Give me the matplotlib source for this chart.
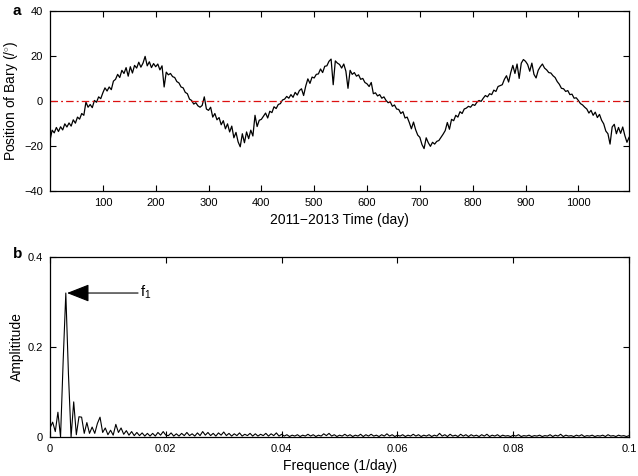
import numpy as np
import matplotlib
matplotlib.use("Agg")
import matplotlib.pyplot as plt

plt.rcParams['font.family'] = ['Liberation Sans', 'DejaVu Sans']
plt.rcParams['mathtext.fontset'] = 'custom'
plt.rcParams['mathtext.rm'] = 'Liberation Sans'
plt.rcParams['mathtext.it'] = 'Liberation Sans'

# ---- panel a: position series (one value every 4 days, 0..1096) ----
day_step = 4
position = [
    -17.5, -13.0, -14.2, -11.8, -13.6, -11.5, -12.9, -10.2, -11.6, -9.8, -11.2, -8.4, -9.9, -7.2, -8.1, -5.6, -6.4, -0.5, -2.8, -1.6, -3.0, 0.2, -0.6, 1.8, 1.0,
    3.6, 5.8, 4.4, 6.2, 5.0, 8.8, 9.6, 11.8, 10.4, 13.6, 12.2, 14.8, 11.0, 15.2, 12.4, 15.8, 14.6, 17.2, 15.0, 16.8, 19.8, 15.6, 17.4, 14.8, 16.6,
    15.2, 16.4, 13.8, 15.6, 6.2, 12.8, 11.6, 12.2, 10.8, 10.4, 8.6, 8.0, 6.2, 5.8, 3.8, 3.2, 0.8, 0.2, -1.4, -0.8, -2.2, -2.8, -2.0, 1.8, -3.6,
    -4.2, -2.8, -7.2, -5.6, -8.4, -7.4, -10.6, -8.8, -12.4, -10.2, -13.8, -11.2, -16.4, -14.0, -18.2, -20.4, -14.6, -18.6, -13.8, -16.8, -13.0, -15.6, -6.4, -11.4, -8.6,
    -8.2, -6.8, -5.4, -7.6, -4.6, -5.2, -2.6, -3.4, -1.6, -1.2, 0.4, 0.8, 2.0, 1.2, 2.8, 1.6, 3.8, 2.6, 4.6, 5.4, 2.4, 6.6, 9.8, 7.8, 10.6,
    10.2, 11.8, 12.0, 14.2, 12.6, 15.4, 15.6, 17.6, 18.6, 7.2, 17.8, 16.8, 16.2, 14.6, 16.4, 13.2, 5.6, 13.6, 11.8, 12.6, 11.0, 11.6, 9.6, 10.0, 8.2,
    7.6, 6.4, 8.2, 3.2, 3.6, 2.2, 2.8, 1.2, 1.8, 0.2, -0.8, -0.4, -2.4, -1.8, -3.6, -3.8, -5.6, -4.8, -7.6, -7.2, -9.6, -12.4, -9.4, -12.8, -15.2,
    -16.2, -19.4, -21.2, -16.4, -18.6, -20.2, -18.4, -19.2, -18.0, -17.6, -16.2, -14.8, -13.2, -9.6, -12.6, -8.2, -8.8, -6.4, -7.2, -4.8, -5.6, -3.6, -3.2, -2.4, -2.8,
    -1.6, -2.0, -0.6, 0.2, -0.2, 1.2, 2.4, 1.8, 3.2, 2.8, 4.8, 4.2, 6.4, 6.8, 7.2, 9.6, 11.2, 8.4, 12.6, 15.8, 12.2, 16.4, 10.0, 16.8, 18.4,
    17.6, 16.2, 13.2, 16.8, 11.8, 10.2, 13.6, 15.2, 16.4, 14.6, 13.8, 12.6, 12.4, 11.2, 10.4, 8.6, 7.4, 5.6, 5.4, 4.2, 4.6, 2.8, 3.0, 1.2, 1.4,
    0.2, -1.2, -1.8, -2.8, -3.6, -5.4, -4.2, -6.4, -5.0, -7.4, -6.0, -8.6, -10.2, -13.4, -14.6, -19.2, -11.6, -10.4, -14.6, -11.8, -14.4, -11.6, -15.4, -18.4, -16.2,
]
days = np.arange(len(position)) * day_step

top_xticks = [100, 200, 300, 400, 500, 600, 700, 800, 900, 1000]
top_yticks = [-40, -20, 0, 20, 40]

# ---- panel b: amplitude spectrum (221 values, 0..0.1 1/day) ----
amplitude = [
    0.020, 0.033, 0.012, 0.055, 0.000, 0.170, 0.320, 0.140, 0.000, 0.078,
    0.005, 0.045, 0.044, 0.008, 0.032, 0.008, 0.022, 0.008, 0.030, 0.044,
    0.010, 0.020, 0.005, 0.015, 0.004, 0.028, 0.010, 0.020, 0.006, 0.014,
    0.004, 0.012, 0.003, 0.010, 0.003, 0.009, 0.002, 0.008, 0.002, 0.008,
    0.002, 0.010, 0.004, 0.012, 0.004,
    0.003, 0.009, 0.002, 0.007, 0.002, 0.008, 0.003, 0.010, 0.003, 0.007, 0.002, 0.009, 0.003, 0.012, 0.004, 0.010, 0.003, 0.008, 0.002, 0.009,
    0.004, 0.011, 0.003, 0.008, 0.002, 0.007, 0.003, 0.009, 0.002, 0.006, 0.003, 0.008, 0.002, 0.007, 0.002, 0.006, 0.003, 0.008, 0.002, 0.007,
    0.003, 0.009, 0.002, 0.006, 0.002, 0.005, 0.001, 0.004, 0.002, 0.005, 0.001, 0.004, 0.002, 0.006, 0.002, 0.005, 0.001, 0.004, 0.002, 0.007,
    0.003, 0.008, 0.002, 0.005, 0.001, 0.004, 0.002, 0.006, 0.002, 0.005, 0.001, 0.004, 0.002, 0.006, 0.001, 0.005, 0.002, 0.006, 0.002, 0.004,
    0.001, 0.005, 0.002, 0.007, 0.002, 0.005, 0.001, 0.004, 0.002, 0.005, 0.001, 0.004, 0.002, 0.006, 0.002, 0.005, 0.001, 0.004, 0.002, 0.005,
    0.001, 0.004, 0.002, 0.008, 0.002, 0.005, 0.001, 0.006, 0.002, 0.004, 0.001, 0.006, 0.002, 0.005, 0.001, 0.005, 0.002, 0.004, 0.001, 0.005,
    0.002, 0.006, 0.001, 0.004, 0.002, 0.005, 0.001, 0.004, 0.002, 0.003, 0.001, 0.004, 0.002, 0.005, 0.001, 0.003, 0.002, 0.004, 0.001, 0.003,
    0.002, 0.004, 0.001, 0.003, 0.002, 0.005, 0.001, 0.004, 0.002, 0.006, 0.001, 0.004, 0.002, 0.003, 0.001, 0.004, 0.002, 0.005, 0.001, 0.003,
    0.002, 0.004, 0.001, 0.003, 0.002, 0.004, 0.001, 0.005, 0.002, 0.003, 0.001, 0.004, 0.002, 0.003, 0.001, 0.003,
]
freq = np.linspace(0, 0.1, len(amplitude))

bot_xticks = [0, 0.02, 0.04, 0.06, 0.08, 0.1]
bot_xticklabels = ['0', '0.02', '0.04', '0.06', '0.08', '0.1']
bot_yticks = [0, 0.2, 0.4]
bot_yticklabels = ['0', '0.2', '0.4']

peak_freq = 0.00273
peak_amp = 0.320

fig = plt.figure(figsize=(6.38, 4.76), dpi=100)
ax1 = fig.add_axes([0.0784, 0.599, 0.9076, 0.378])
ax2 = fig.add_axes([0.0784, 0.082, 0.9076, 0.378])

for ax in (ax1, ax2):
    ax.tick_params(direction='in', top=True, right=True, labelsize=8,
                   length=4, width=0.8, pad=5)
    for s in ax.spines.values():
        s.set_linewidth(0.9)

# panel a
ax1.plot(days, position, color='black', lw=0.9)
ax1.axhline(0, color='#dd1111', lw=0.9, dashes=(6, 2.5, 1.5, 2.5))
ax1.set_xlim(0, 1096)
ax1.set_ylim(-40, 40)
ax1.set_xticks(top_xticks)
ax1.set_yticks(top_yticks)
ax1.set_yticklabels(['\u221240', '\u221220', '0', '20', '40'])
ax1.set_xlabel('2011\u22122013 Time (day)', fontsize=10, labelpad=4)
ax1.set_ylabel('Position of Bary (/$^{\\circ}$)', fontsize=10, labelpad=3)
fig.text(0.02, 0.977, 'a', fontsize=11, fontweight='bold', ha='left', va='center')

# panel b
ax2.plot(freq, amplitude, color='black', lw=0.8)
ax2.set_xlim(0, 0.1)
ax2.set_ylim(0, 0.4)
ax2.set_xticks(bot_xticks)
ax2.set_xticklabels(bot_xticklabels)
ax2.set_yticks(bot_yticks)
ax2.set_yticklabels(bot_yticklabels)
ax2.set_xlabel('Frequence (1/day)', fontsize=10, labelpad=4)
ax2.set_ylabel('Amplititude', fontsize=10, labelpad=3)
ax2.annotate('', xy=(peak_freq + 0.0002, peak_amp), xytext=(0.0152, peak_amp),
             arrowprops=dict(arrowstyle='-|>,head_length=1.4,head_width=0.55',
                             color='black', lw=0.8, shrinkA=0, shrinkB=0))
ax2.text(0.0155, 0.322, 'f$_{1}$', fontsize=10.5, ha='left', va='center')
fig.text(0.02, 0.466, 'b', fontsize=11, fontweight='bold', ha='left', va='center')

fig.savefig('out.png', dpi=100)
